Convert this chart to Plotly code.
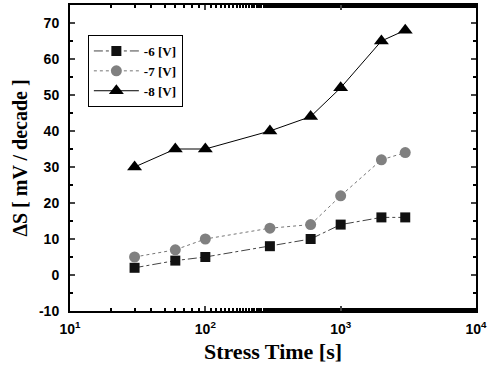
import plotly.graph_objects as go

stress_time = [30, 60, 100, 300, 600, 1000, 2000, 3000]
s_6v = [2, 4, 5, 8, 10, 14, 16, 16]
s_7v = [5, 7, 10, 13, 14, 22, 32, 34]
s_8v = [30, 35, 35, 40, 44, 52, 65, 68]
series_names = ["-6 [V]", "-7 [V]", "-8 [V]"]
x_tickvals = [10, 100, 1000, 10000]
x_ticktext = ["10<sup>1</sup>", "10<sup>2</sup>", "10<sup>3</sup>", "10<sup>4</sup>"]
y_tickvals = [-10, 0, 10, 20, 30, 40, 50, 60, 70]

def bold(s):
    return f"<b>{s}</b>"

fig = go.Figure()
fig.add_trace(go.Scatter(x=stress_time, y=s_6v, name=bold(series_names[0]), mode="lines+markers",
                         line=dict(color="#444444", width=1, dash="dashdot"),
                         marker=dict(symbol="square", size=10, color="#111111")))
fig.add_trace(go.Scatter(x=stress_time, y=s_7v, name=bold(series_names[1]), mode="lines+markers",
                         line=dict(color="#777777", width=1, dash="dot"),
                         marker=dict(symbol="circle", size=11, color="#808080")))
fig.add_trace(go.Scatter(x=stress_time, y=s_8v, name=bold(series_names[2]), mode="lines+markers",
                         line=dict(color="#000000", width=1),
                         marker=dict(symbol="triangle-up", size=13, color="#000000")))

tickfont = dict(family="Liberation Sans", size=14, color="black")
fig.update_layout(
    width=494, height=368,
    margin=dict(l=70, r=18, t=5, b=57),
    paper_bgcolor="white", plot_bgcolor="white",
    font=dict(family="Liberation Sans", color="black"),
    legend=dict(x=0.044, y=0.902, xanchor="left", yanchor="top",
                bordercolor="black", borderwidth=1, bgcolor="white",
                font=dict(family="Liberation Serif", size=13, color="black"),
                tracegroupgap=0, itemwidth=45),
    xaxis=dict(type="log", range=[1, 4], tickvals=x_tickvals,
               ticktext=[bold(t) for t in x_ticktext],
               ticks="inside", ticklen=5, tickwidth=2, showline=True, linewidth=2,
               linecolor="black", mirror="allticks", showgrid=False, zeroline=False,
               automargin=False, tickfont=tickfont, ticklabelstandoff=4,
               minor=dict(ticks="inside", ticklen=3, tickwidth=1.5, tickcolor="black", showgrid=False),
               title=dict(text=bold("Stress Time [s]"),
                          font=dict(family="Liberation Serif", size=22), standoff=8)),
    yaxis=dict(range=[-10, 75], tickvals=y_tickvals,
               ticktext=[bold(v) for v in y_tickvals],
               ticks="inside", ticklen=5, tickwidth=2, showline=True, linewidth=2,
               linecolor="black", mirror="allticks", showgrid=False, zeroline=False,
               automargin=False, tickfont=tickfont, ticklabelstandoff=6,
               minor=dict(ticks="inside", ticklen=3, tickwidth=1.5, dtick=5, tickcolor="black", showgrid=False),
               title=dict(text=bold("ΔS [ mV / decade ]"),
                          font=dict(family="Liberation Serif", size=20), standoff=6)),
)
fig.write_html("out.html", config={"displayModeBar": False},
               post_script="document.body.style.margin='0';")
